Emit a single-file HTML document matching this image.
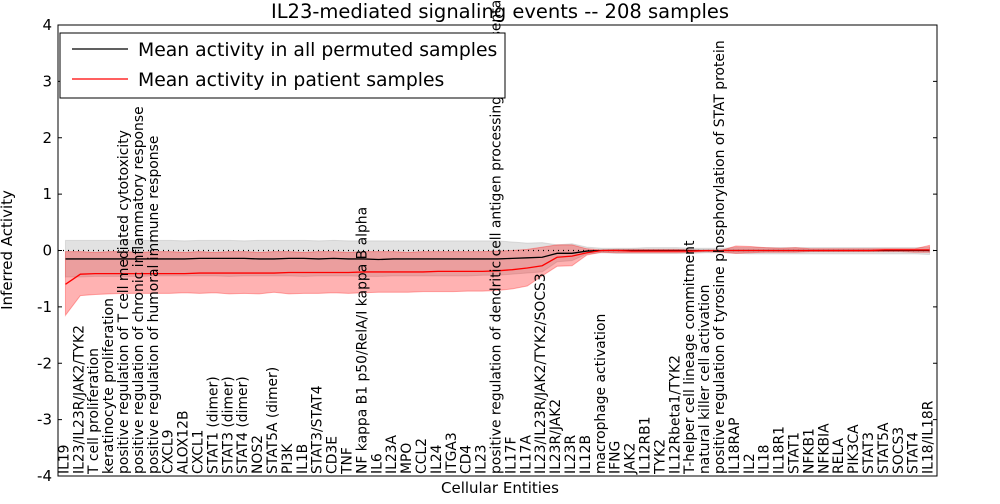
<!DOCTYPE html>
<html><head><meta charset="utf-8"><style>
body{margin:0;background:#fff;font-family:"DejaVu Sans",sans-serif}
svg text{font-family:"DejaVu Sans",sans-serif}
</style></head><body>
<svg id="chart" width="1000" height="500" xmlns="http://www.w3.org/2000/svg">
<rect width="1000" height="500" fill="#fff"/>
<g id="bands"></g><g id="lines"></g>
<rect x="58" y="25" width="879" height="451" fill="none" stroke="#000" stroke-width="1"/>
<g id="axes"></g>
<text x="500" y="18" font-size="19.5" text-anchor="middle">IL23-mediated signaling events -- 208 samples</text>
<text x="500" y="493" font-size="15" text-anchor="middle">Cellular Entities</text>
<text transform="translate(12,250) rotate(-90)" font-size="15" text-anchor="middle">Inferred Activity</text>
<g>
<rect x="60" y="33" width="445" height="65" fill="#fff" stroke="#000"/>
<line x1="72" y1="49" x2="128" y2="49" stroke="#000" stroke-width="1.2"/>
<text x="138" y="56" font-size="18.8">Mean activity in all permuted samples</text>
<line x1="72" y1="79" x2="128" y2="79" stroke="#f00" stroke-width="1.2"/>
<text x="138" y="86" font-size="18.8">Mean activity in patient samples</text>
</g>
</svg>
<script>
const categories=["IL19","IL23/IL23R/JAK2/TYK2","T cell proliferation","keratinocyte proliferation","positive regulation of T cell mediated cytotoxicity","positive regulation of chronic inflammatory response","positive regulation of humoral immune response","CXCL9","ALOX12B","CXCL1","STAT1 (dimer)","STAT3 (dimer)","STAT4 (dimer)","NOS2","STAT5A (dimer)","PI3K","IL1B","STAT3/STAT4","CD3E","TNF","NF kappa B1 p50/RelA/I kappa B alpha","IL6","IL23A","MPO","CCL2","IL24","ITGA3","CD4","IL23","positive regulation of dendritic cell antigen processing and presentation","IL17F","IL17A","IL23/IL23R/JAK2/TYK2/SOCS3","IL23R/JAK2","IL23R","IL12B","macrophage activation","IFNG","JAK2","IL12RB1","TYK2","IL12Rbeta1/TYK2","T-helper cell lineage commitment","natural killer cell activation","positive regulation of tyrosine phosphorylation of STAT protein","IL18RAP","IL2","IL18","IL18R1","STAT1","NFKB1","NFKBIA","RELA","PIK3CA","STAT3","STAT5A","SOCS3","STAT4","IL18/IL18R"];
const patientMean=[-0.6,-0.42,-0.41,-0.41,-0.41,-0.41,-0.41,-0.41,-0.41,-0.40,-0.40,-0.40,-0.40,-0.40,-0.40,-0.39,-0.39,-0.39,-0.39,-0.39,-0.38,-0.38,-0.38,-0.38,-0.38,-0.37,-0.37,-0.37,-0.37,-0.36,-0.34,-0.31,-0.27,-0.12,-0.1,-0.04,0,0,-0.01,-0.01,-0.01,-0.01,-0.01,0,0,0,0,0,0,0,0,0,0,0,0,0.01,0.01,0.01,0.01];
const patientLow=[-1.15,-0.8,-0.78,-0.77,-0.76,-0.76,-0.76,-0.76,-0.75,-0.76,-0.75,-0.77,-0.76,-0.77,-0.74,-0.77,-0.76,-0.76,-0.75,-0.76,-0.75,-0.74,-0.74,-0.74,-0.73,-0.73,-0.73,-0.72,-0.72,-0.71,-0.68,-0.63,-0.45,-0.28,-0.27,-0.08,-0.03,-0.04,-0.04,-0.04,-0.04,-0.04,-0.03,-0.02,-0.03,-0.05,-0.04,-0.03,-0.03,-0.03,-0.02,-0.02,-0.02,-0.02,-0.02,-0.02,-0.02,-0.03,-0.03];
const patientHigh=[-0.02,-0.02,-0.03,-0.02,-0.02,-0.03,-0.02,-0.02,-0.03,-0.02,-0.03,-0.02,-0.02,-0.03,-0.02,-0.02,-0.03,-0.02,-0.02,-0.03,-0.02,-0.02,-0.02,-0.03,-0.02,-0.02,-0.02,-0.02,-0.02,-0.01,0.0,0.02,0.06,0.1,0.1,0.03,0.01,0.02,0.02,0.02,0.02,0.02,0.01,0.0,0.0,0.08,0.07,0.05,0.04,0.05,0.03,0.03,0.03,0.03,0.03,0.03,0.03,0.03,0.09];
const permMean=[-0.15,-0.15,-0.15,-0.15,-0.15,-0.15,-0.15,-0.15,-0.15,-0.14,-0.14,-0.14,-0.14,-0.15,-0.15,-0.14,-0.14,-0.15,-0.14,-0.15,-0.15,-0.16,-0.15,-0.15,-0.15,-0.15,-0.15,-0.15,-0.15,-0.15,-0.14,-0.13,-0.12,-0.05,-0.05,-0.01,0,0,0,0,0,0,0,0,0,0,0,0,0,0,0,0,0,0,0,0,0,0,0];
const permLow=[-0.47,-0.47,-0.46,-0.46,-0.46,-0.46,-0.45,-0.45,-0.45,-0.45,-0.45,-0.46,-0.45,-0.45,-0.45,-0.45,-0.46,-0.45,-0.45,-0.45,-0.46,-0.46,-0.45,-0.45,-0.45,-0.45,-0.45,-0.45,-0.44,-0.44,-0.42,-0.4,-0.38,-0.2,-0.18,-0.06,-0.04,-0.05,-0.05,-0.05,-0.05,-0.05,-0.05,-0.04,-0.04,-0.05,-0.06,-0.06,-0.06,-0.06,-0.06,-0.06,-0.06,-0.06,-0.06,-0.06,-0.06,-0.06,-0.07];
const permHigh=[0.18,0.18,0.18,0.18,0.18,0.18,0.18,0.18,0.17,0.18,0.18,0.18,0.17,0.18,0.18,0.18,0.18,0.17,0.18,0.17,0.17,0.17,0.17,0.17,0.17,0.17,0.17,0.17,0.17,0.17,0.15,0.13,0.14,0.1,0.12,0.06,0.04,0.04,0.04,0.05,0.05,0.05,0.04,0.04,0.04,0.05,0.05,0.05,0.05,0.05,0.05,0.05,0.05,0.05,0.05,0.05,0.05,0.05,0.05];
const yTicks=[-4,-3,-2,-1,0,1,2,3,4];
const NS="http://www.w3.org/2000/svg";
const X0=58,X1=937,Y0=476,Y1=25;
const n=categories.length;
function xs(i){return X0+(i+0.5)*(X1-X0)/n;}
function ys(v){return Y0-(v+4)/8*(Y0-Y1);}
function mk(t,a,p){const e=document.createElementNS(NS,t);for(const k in a)e.setAttribute(k,a[k]);p.appendChild(e);return e;}
const bands=document.getElementById('bands'),lines=document.getElementById('lines'),axes=document.getElementById('axes');
function band(lo,hi,fill,op,name){let d='M'+lo.map((v,i)=>xs(i)+','+ys(v)).join('L');for(let i=n-1;i>=0;i--)d+='L'+xs(i)+','+ys(hi[i]);d+='Z';const p=mk('path',{d:d,fill:fill,'fill-opacity':op,stroke:fill,'stroke-opacity':op},bands);

}
band(permLow,permHigh,'#a0a0a0',0.3,'permuted-band');
band(patientLow,patientHigh,'#ff0000',0.3,'patient-band');
const z=mk('line',{x1:X0,x2:X1,y1:ys(0),y2:ys(0),stroke:'#000','stroke-dasharray':'1,4','stroke-width':1.2},lines);


function line(vals,col,name){const p=mk('polyline',{points:vals.map((v,i)=>xs(i)+','+ys(v)).join(' '),fill:'none',stroke:col,'stroke-width':1.3},lines);

}
line(permMean,'#000','permuted-mean-line');
line(patientMean,'#f00','patient-mean-line');
yTicks.forEach(v=>{const y=ys(v);mk('line',{x1:X0,x2:X0+4,y1:y,y2:y,stroke:'#000'},axes);mk('line',{x1:X1-4,x2:X1,y1:y,y2:y,stroke:'#000'},axes);
const t=mk('text',{x:X0-6,y:y+5,'font-size':15,'text-anchor':'end'},axes);t.textContent=v;

});
categories.forEach((c,i)=>{const x=xs(i);
const t=mk('text',{transform:'translate('+(x+3)+','+(Y0-2)+') rotate(-90)','font-size':13.9},axes);t.textContent=c;

});
</script>
</body></html>
